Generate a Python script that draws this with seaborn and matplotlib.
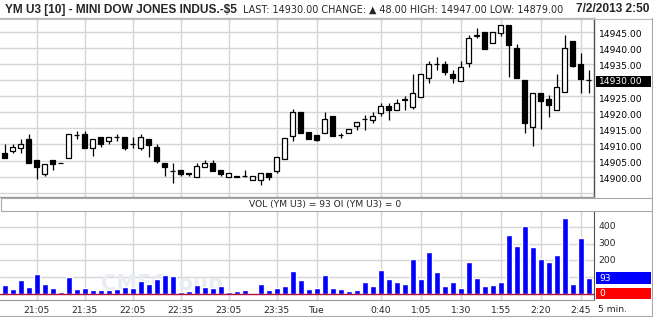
import numpy as np
import pandas as pd
import matplotlib
matplotlib.use("Agg")
import matplotlib.pyplot as plt
import seaborn as sns
from matplotlib.patches import Rectangle
from matplotlib.lines import Line2D

# ---------------- data ----------------
opens = [14907.4, 14907.9, 14908.8, 14911.6, 14905.3, 14900.7, 14905.3, 14904.1, 14905.8, 14912.8,
         14913.4, 14909.0, 14912.4, 14911.1, 14912.2, 14912.4, 14910.1, 14909.0, 14911.6, 14909.3,
         14904.3, 14901.7, 14902.0, 14901.0, 14899.9, 14903.0, 14904.3, 14902.2, 14899.9, 14900.2,
         14900.2, 14899.1, 14898.9, 14901.1, 14901.8, 14905.6, 14912.6, 14920.1, 14913.9, 14912.9,
         14913.6, 14918.9, 14912.9, 14913.6, 14915.6, 14917.9, 14917.5, 14919.8, 14922.0, 14920.6,
         14923.9, 14921.6, 14924.6, 14930.5, 14934.9, 14935.0, 14931.9, 14929.7, 14935.4, 14943.8,
         14945.0, 14941.6, 14944.7, 14947.1, 14939.8, 14930.0, 14915.5, 14925.9, 14924.0, 14920.7,
         14926.4, 14942.1, 14935.0, 14930.0]
highs = [14910.1, 14910.0, 14911.6, 14913.4, 14905.3, 14904.0, 14905.3, 14904.1, 14913.4, 14914.1,
         14914.3, 14911.6, 14912.4, 14912.4, 14913.1, 14912.4, 14912.4, 14913.4, 14911.6, 14910.1,
         14904.3, 14904.3, 14902.0, 14901.0, 14904.3, 14905.3, 14905.3, 14902.2, 14901.1, 14900.2,
         14902.0, 14900.2, 14901.1, 14901.1, 14906.1, 14912.0, 14921.0, 14920.1, 14913.9, 14912.9,
         14920.1, 14918.9, 14913.6, 14914.8, 14916.9, 14919.0, 14920.1, 14922.9, 14922.9, 14924.1,
         14925.1, 14932.0, 14931.9, 14936.0, 14937.0, 14936.0, 14933.1, 14936.0, 14944.0, 14946.0,
         14945.0, 14945.0, 14947.1, 14947.1, 14941.2, 14930.0, 14925.9, 14925.9, 14925.4, 14931.9,
         14944.0, 14942.1, 14938.3, 14933.1]
lows = [14905.8, 14907.4, 14907.4, 14904.3, 14899.2, 14900.1, 14902.0, 14904.1, 14905.8, 14911.6,
        14909.0, 14906.4, 14909.3, 14910.3, 14911.1, 14908.2, 14909.0, 14908.4, 14906.1, 14904.3,
        14900.1, 14898.0, 14900.2, 14900.2, 14899.9, 14903.0, 14901.8, 14900.2, 14899.9, 14899.8,
        14900.0, 14899.1, 14897.3, 14899.1, 14901.1, 14905.6, 14911.0, 14913.6, 14911.7, 14911.0,
        14913.6, 14912.6, 14912.0, 14913.6, 14914.6, 14914.6, 14916.7, 14918.7, 14917.7, 14920.6,
        14920.8, 14921.0, 14924.6, 14929.0, 14933.1, 14931.6, 14929.0, 14929.7, 14933.9, 14942.9,
        14939.5, 14941.6, 14943.7, 14930.8, 14930.5, 14913.7, 14909.5, 14914.7, 14918.6, 14920.7,
        14926.4, 14933.9, 14925.9, 14925.9]
closes = [14905.8, 14909.3, 14910.1, 14904.3, 14903.0, 14904.0, 14904.0, 14904.1, 14913.4, 14912.8,
          14909.0, 14911.6, 14910.1, 14912.4, 14912.2, 14908.8, 14910.1, 14912.4, 14909.9, 14904.8,
          14903.0, 14901.7, 14900.7, 14900.8, 14903.2, 14904.3, 14901.8, 14900.9, 14901.1, 14900.0,
          14900.2, 14900.2, 14901.1, 14899.9, 14906.1, 14912.0, 14920.1, 14913.6, 14911.7, 14911.5,
          14917.9, 14912.6, 14912.9, 14914.8, 14916.9, 14917.9, 14918.9, 14921.8, 14920.6, 14922.9,
          14923.9, 14926.0, 14931.9, 14935.0, 14934.9, 14932.6, 14930.5, 14933.9, 14942.9, 14943.8,
          14939.5, 14945.0, 14947.1, 14940.9, 14930.5, 14916.6, 14925.9, 14923.6, 14922.2, 14927.9,
          14939.8, 14934.5, 14930.3, 14930.0]
volumes = [52, 28, 82, 40, 118, 58, 34, 10, 100, 28,
           34, 22, 22, 22, 28, 40, 34, 76, 58, 88,
           112, 106, 10, 16, 52, 40, 34, 46, 10, 16,
           22, 4, 58, 22, 34, 46, 136, 82, 28, 34,
           112, 34, 28, 16, 22, 70, 46, 142, 88, 70,
           58, 208, 88, 250, 130, 46, 70, 34, 190, 94,
           46, 52, 70, 352, 286, 406, 280, 208, 190, 232,
           454, 58, 334, 93]
time_tick_bars = [4, 10, 16, 22, 28, 34, 39, 47, 52, 57, 62, 67, 72]
time_tick_labels = ["21:05", "21:35", "22:05", "22:35", "23:05", "23:35", "Tue",
                    "0:40", "1:05", "1:30", "1:55", "2:20", "2:45"]
price_ticks = [14945, 14940, 14935, 14930, 14925, 14920, 14915, 14910, 14905, 14900]
vol_ticks = [400, 300, 200]
last_price = 14930.00
last_vol = 93
open_interest = 0

# ---------------- style ----------------
sns.set_style("white")
plt.rcParams['font.family'] = ['DejaVu Sans']

W, H = 653, 317
fig = plt.figure(figsize=(W / 100, H / 100), dpi=100)
fig.patch.set_facecolor("white")


def fy(py):
    return 1 - py / H


GRID = "#d6d6d6"
ax_p = fig.add_axes([0, fy(197), 594 / W, (197 - 18) / H])
ax_v = fig.add_axes([0, fy(300), 594 / W, (300 - 211) / H])

n = len(opens)
xs = np.arange(n)
XL = (-0.59, -0.59 + 594 / 8)

# ---------------- price panel ----------------
for p in range(14895, 14951, 5):
    ax_p.axhline(p, color=GRID, lw=1, zorder=0)
for t in time_tick_bars:
    ax_p.axvline(t, color=GRID, lw=1, zorder=0)

o = np.array(opens); c = np.array(closes); h = np.array(highs); l = np.array(lows)
ax_p.vlines(xs, l, h, color="black", lw=0.9, zorder=2)
up = c >= o
bottom = np.minimum(o, c)
height = np.maximum(np.abs(c - o), 0.12)
ax_p.bar(xs[up], height[up], bottom=bottom[up], width=0.68, facecolor="white",
         edgecolor="black", linewidth=0.9, zorder=3)
ax_p.bar(xs[~up], height[~up], bottom=bottom[~up], width=0.68, facecolor="black",
         edgecolor="black", linewidth=0.9, zorder=3)

ax_p.set_xlim(*XL)
ax_p.set_ylim(14893.7, 14949.25)
ax_p.set_xticks([]); ax_p.set_yticks([])
ax_p.spines["left"].set_visible(False)
ax_p.spines["top"].set_color("#bdbdbd")
ax_p.spines["bottom"].set_color("#9a9a9a")
ax_p.spines["right"].set_color("#505050")
for s in ax_p.spines.values():
    s.set_linewidth(1)

for p in price_ticks:
    if p == last_price:
        continue
    ax_p.text(1.009, p - 0.9, f"{p:.2f}", transform=ax_p.get_yaxis_transform(),
              ha="left", va="center", fontsize=6.6, color="black", clip_on=False)

# last price box
fig.add_artist(Rectangle((596 / W, fy(86.7)), 55 / W, 11 / H, transform=fig.transFigure,
                         facecolor="black", edgecolor="none"))
fig.text(599 / W, fy(81.2), f"{last_price:.2f}", color="white", fontsize=6.6,
         ha="left", va="center")

# ---------------- volume panel ----------------
for v in [100, 200, 300, 400]:
    ax_v.axhline(v, color=GRID, lw=1, zorder=0)
for t in time_tick_bars:
    ax_v.axvline(t, color=GRID, lw=1, zorder=0)

ax_v.text(12, 0, "CMEGroup", fontsize=15, fontweight="bold", color="#e9ecf2",
          ha="left", va="bottom", zorder=0.5)

df = pd.DataFrame({"bar": xs, "volume": volumes})
sns.barplot(data=df, x="bar", y="volume", native_scale=True, color="#0000ff",
            saturation=1, width=0.7, errorbar=None, ax=ax_v, zorder=2)
ax_v.axhline(0, color="#b0103a", lw=1, zorder=3)

ax_v.set_xlim(*XL)
ax_v.set_ylim(-37.7, 495)
ax_v.set_xlabel(""); ax_v.set_ylabel("")
ax_v.set_yticks([])
ax_v.set_xticks(time_tick_bars)
ax_v.set_xticklabels(time_tick_labels, fontsize=6.6)
ax_v.tick_params(axis="x", length=0, pad=4.5)
ax_v.spines["left"].set_visible(False)
ax_v.spines["top"].set_visible(False)
ax_v.spines["bottom"].set_color("#9a9a9a")
ax_v.spines["right"].set_color("#505050")

for v in vol_ticks:
    ax_v.text(1.007, v, f"{v}", transform=ax_v.get_yaxis_transform(),
              ha="left", va="center", fontsize=6.6, clip_on=False)

fig.add_artist(Rectangle((596 / W, fy(283.7)), 55 / W, 11.4 / H, transform=fig.transFigure,
                         facecolor="#0000ff", edgecolor="none"))
fig.text(599 / W, fy(278.3), f"{last_vol}", color="white", fontsize=6.6, ha="left", va="center")
fig.add_artist(Rectangle((596 / W, fy(299.3)), 55 / W, 11 / H, transform=fig.transFigure,
                         facecolor="#ff0000", edgecolor="none"))
fig.text(599 / W, fy(293.8), f"{open_interest}", color="white", fontsize=6.6, ha="left", va="center")

fig.text(598 / W, fy(310), "5 min.", fontsize=6.6, ha="left", va="center")

# strip with VOL label
fig.add_artist(Rectangle((0.5 / W, fy(210.5)), 651 / W, 12.5 / H, transform=fig.transFigure,
                         facecolor="white", edgecolor="#a8a8a8", lw=0.8))
fig.text(325 / W, fy(204.3), f"VOL (YM U3) = {last_vol} OI (YM U3) = {open_interest}",
         fontsize=6.6, ha="center", va="center")

# frame lines
fig.add_artist(Line2D([0, 651.5 / W], [fy(18.5), fy(18.5)], transform=fig.transFigure,
                      color="#bdbdbd", lw=0.8))
fig.add_artist(Line2D([0, 1], [fy(316), fy(316)], transform=fig.transFigure, color="#a8a8a8", lw=0.8))
fig.add_artist(Line2D([651.5 / W, 651.5 / W], [fy(18), fy(316)], transform=fig.transFigure,
                      color="#a8a8a8", lw=0.8))

# ---------------- header ----------------
fig.text(5 / W, fy(9.5), "YM U3 [10] - MINI DOW JONES INDUS.-$5", fontsize=8.6,
         fontweight="bold", family=["Liberation Sans", "DejaVu Sans"], ha="left", va="center")
fig.text(243 / W, fy(9.5), "LAST: 14930.00 CHANGE: \u25B2 48.00 HIGH: 14947.00 LOW: 14879.00",
         fontsize=6.9, family=["DejaVu Sans"], ha="left", va="center")
fig.text(649 / W, fy(9.5), "7/2/2013 2:50", fontsize=8.6, fontweight="bold",
         family=["Liberation Sans", "DejaVu Sans"], ha="right", va="center")

fig.savefig("out.png", dpi=100, facecolor="white")
